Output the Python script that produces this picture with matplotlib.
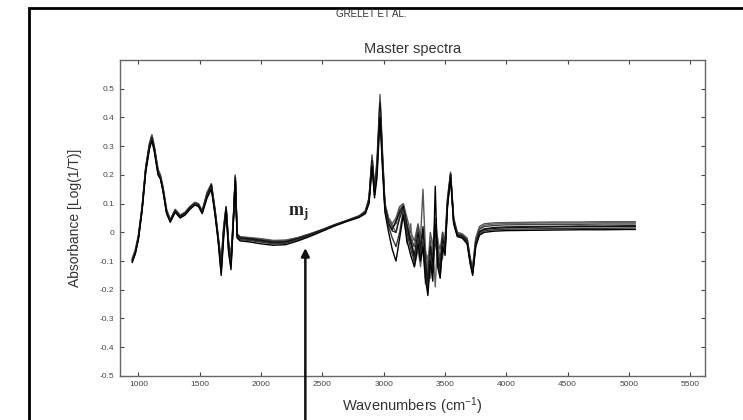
import matplotlib
matplotlib.use("Agg")
import matplotlib.pyplot as plt
from matplotlib.patches import Rectangle

plt.rcParams['font.family'] = ['Liberation Sans', 'DejaVu Sans']
plt.rcParams['mathtext.fontset'] = 'custom'
plt.rcParams['mathtext.rm'] = 'Liberation Sans'
plt.rcParams['mathtext.it'] = 'Liberation Sans:italic'
plt.rcParams['mathtext.bf'] = 'Liberation Serif:bold'

# wavenumbers (cm-1) shared by all spectra
wn = [950, 975, 1000, 1030, 1060, 1090, 1110, 1130, 1160, 1180,
      1200, 1230, 1260, 1300, 1340, 1380, 1420, 1460, 1490, 1520,
      1560, 1595, 1625, 1650, 1675, 1695, 1715, 1735, 1755, 1775,
      1790, 1805, 1830, 1900, 2000, 2100, 2200, 2300, 2400, 2500,
      2600, 2700, 2800, 2850, 2880, 2905, 2925, 2945, 2970, 2990,
      3010, 3040, 3070, 3100, 3130, 3160, 3190, 3220, 3250, 3280,
      3300, 3320, 3340, 3360, 3380, 3400, 3420, 3440, 3460, 3480,
      3500, 3520, 3545, 3570, 3600, 3640, 3680, 3705, 3725, 3750,
      3780, 3820, 3900, 4000, 4200, 4400, 4600, 4800, 5000, 5050]

spec_1 = [-0.10, -0.07, -0.02, 0.08, 0.22, 0.30, 0.33, 0.29, 0.21, 0.19,
          0.15, 0.07, 0.04, 0.075, 0.055, 0.065, 0.085, 0.10, 0.095, 0.07,
          0.13, 0.165, 0.07, -0.02, -0.13, 0.0, 0.085, -0.05, -0.11, 0.05,
          0.19, -0.01, -0.02, -0.022, -0.028, -0.034, -0.033, -0.022, -0.008, 0.008,
          0.025, 0.04, 0.055, 0.07, 0.11, 0.25, 0.14, 0.22, 0.45, 0.25,
          0.09, 0.03, 0.01, 0.04, 0.07, 0.09, 0.02, -0.03, -0.08, 0.0,
          -0.06, 0.02, -0.12, -0.19, -0.05, -0.12, 0.03, -0.08, -0.13, -0.02,
          -0.06, 0.10, 0.20, 0.04, -0.01, -0.015, -0.03, -0.10, -0.14, -0.04,
          0.0, 0.01, 0.014, 0.016, 0.018, 0.019, 0.02, 0.02, 0.021, 0.021]

spec_2 = [-0.09, -0.06, -0.01, 0.09, 0.23, 0.31, 0.34, 0.30, 0.22, 0.20,
          0.16, 0.08, 0.045, 0.08, 0.06, 0.07, 0.09, 0.105, 0.10, 0.075,
          0.14, 0.17, 0.08, -0.01, -0.10, 0.02, 0.09, -0.03, -0.08, 0.06,
          0.20, -0.005, -0.015, -0.018, -0.022, -0.028, -0.027, -0.018, -0.005, 0.01,
          0.027, 0.042, 0.058, 0.075, 0.12, 0.27, 0.16, 0.25, 0.48, 0.28,
          0.10, 0.05, 0.03, 0.05, 0.09, 0.10, 0.05, 0.00, -0.03, 0.03,
          -0.02, 0.15, -0.06, -0.12, 0.0, -0.05, 0.05, -0.03, -0.06, 0.0,
          -0.03, 0.12, 0.21, 0.05, 0.0, -0.005, -0.02, -0.09, -0.12, -0.02,
          0.02, 0.03, 0.033, 0.034, 0.035, 0.036, 0.036, 0.037, 0.037, 0.037]

spec_3 = [-0.105, -0.075, -0.025, 0.075, 0.21, 0.29, 0.32, 0.28, 0.20, 0.185,
          0.145, 0.065, 0.035, 0.07, 0.05, 0.06, 0.08, 0.095, 0.09, 0.065,
          0.12, 0.15, 0.06, -0.03, -0.15, -0.02, 0.08, -0.07, -0.13, 0.04,
          0.18, -0.02, -0.03, -0.033, -0.04, -0.045, -0.043, -0.03, -0.014, 0.004,
          0.022, 0.038, 0.052, 0.065, 0.10, 0.23, 0.12, 0.19, 0.40, 0.22,
          0.07, 0.0, -0.06, -0.10, -0.02, 0.06, -0.03, -0.08, -0.12, -0.04,
          -0.10, -0.05, -0.16, -0.22, -0.10, -0.17, 0.16, -0.12, -0.16, -0.05,
          -0.08, 0.09, 0.19, 0.03, -0.015, -0.02, -0.04, -0.11, -0.15, -0.05,
          -0.01, 0.0, 0.004, 0.006, 0.007, 0.008, 0.009, 0.009, 0.01, 0.01]

spec_4 = [-0.095, -0.065, -0.015, 0.085, 0.225, 0.305, 0.335, 0.295, 0.215, 0.195,
          0.155, 0.075, 0.042, 0.078, 0.058, 0.068, 0.088, 0.10, 0.098, 0.072,
          0.135, 0.16, 0.075, -0.015, -0.12, 0.01, 0.088, -0.04, -0.10, 0.055,
          0.195, -0.008, -0.018, -0.02, -0.025, -0.031, -0.03, -0.02, -0.006, 0.009,
          0.026, 0.041, 0.056, 0.072, 0.115, 0.26, 0.15, 0.23, 0.46, 0.26,
          0.095, 0.04, 0.02, 0.03, 0.08, 0.095, 0.03, -0.02, -0.05, 0.02,
          -0.04, 0.0, -0.09, -0.15, -0.03, -0.09, 0.0, -0.05, -0.10, 0.0,
          -0.04, 0.11, 0.205, 0.045, -0.005, -0.01, -0.025, -0.095, -0.13, -0.03,
          0.01, 0.02, 0.024, 0.026, 0.027, 0.028, 0.028, 0.029, 0.029, 0.029]

spec_5 = [-0.10, -0.072, -0.022, 0.078, 0.215, 0.295, 0.325, 0.285, 0.205, 0.188,
          0.148, 0.068, 0.038, 0.072, 0.052, 0.062, 0.082, 0.098, 0.092, 0.068,
          0.125, 0.155, 0.065, -0.025, -0.14, -0.01, 0.082, -0.06, -0.12, 0.045,
          0.185, -0.015, -0.026, -0.028, -0.034, -0.04, -0.038, -0.026, -0.011, 0.006,
          0.024, 0.039, 0.054, 0.068, 0.105, 0.24, 0.13, 0.21, 0.42, 0.24,
          0.08, 0.02, -0.02, -0.05, 0.0, 0.08, 0.0, -0.06, -0.10, -0.02,
          -0.08, -0.03, -0.14, -0.20, -0.08, -0.14, -0.02, -0.10, -0.15, -0.04,
          -0.07, 0.095, 0.195, 0.035, -0.012, -0.018, -0.035, -0.105, -0.145, -0.045,
          -0.005, 0.005, 0.009, 0.011, 0.012, 0.013, 0.014, 0.014, 0.015, 0.015]

spec_6 = [-0.098, -0.068, -0.018, 0.082, 0.22, 0.30, 0.33, 0.29, 0.21, 0.19,
          0.15, 0.072, 0.04, 0.075, 0.055, 0.066, 0.086, 0.1, 0.094, 0.07,
          0.13, 0.165, 0.07, -0.02, -0.125, 0.005, 0.085, -0.045, -0.105, 0.05,
          0.19, -0.012, -0.022, -0.025, -0.031, -0.037, -0.035, -0.024, -0.009, 0.007,
          0.025, 0.04, 0.055, 0.07, 0.11, 0.25, 0.14, 0.22, 0.44, 0.25,
          0.085, 0.03, 0.005, 0.0, 0.05, 0.085, 0.01, -0.04, -0.09, -0.01,
          -0.07, 0.01, -0.10, -0.17, -0.06, -0.13, 0.01, -0.09, -0.14, -0.03,
          -0.05, 0.10, 0.20, 0.04, -0.008, -0.012, -0.03, -0.10, -0.14, -0.04,
          0.003, 0.012, 0.017, 0.019, 0.02, 0.021, 0.022, 0.022, 0.023, 0.023]

spec_7 = [-0.093, -0.063, -0.012, 0.088, 0.228, 0.308, 0.338, 0.298, 0.218, 0.198,
          0.158, 0.078, 0.043, 0.08, 0.06, 0.069, 0.089, 0.103, 0.099, 0.073,
          0.138, 0.168, 0.078, -0.012, -0.11, 0.015, 0.09, -0.035, -0.09, 0.058,
          0.198, -0.006, -0.016, -0.019, -0.024, -0.03, -0.028, -0.019, -0.005, 0.01,
          0.026, 0.041, 0.057, 0.073, 0.118, 0.265, 0.155, 0.24, 0.47, 0.27,
          0.098, 0.045, 0.025, 0.0, 0.06, 0.10, -0.04, 0.03, -0.12, -0.06,
          -0.12, -0.04, -0.18, -0.08, -0.16, -0.04, -0.19, -0.02, -0.11, -0.09,
          -0.02, 0.115, 0.205, 0.05, -0.002, -0.008, -0.022, -0.09, -0.125, -0.025,
          0.015, 0.025, 0.029, 0.031, 0.032, 0.033, 0.033, 0.034, 0.034, 0.034]

spectra = [spec_2, spec_7, spec_4, spec_6, spec_1, spec_5, spec_3]
line_colors = ['#555555', '#666666', '#444444', '#222222', '#111111', '#333333', '#000000']

xticks = [1000, 1500, 2000, 2500, 3000, 3500, 4000, 4500, 5000, 5500]
yticks = [-0.5, -0.4, -0.3, -0.2, -0.1, 0, 0.1, 0.2, 0.3, 0.4, 0.5]
ytick_labels = ['-0.5', '-0.4', '-0.3', '-0.2', '-0.1', '0', '0.1', '0.2', '0.3', '0.4', '0.5']

fig = plt.figure(figsize=(7.43, 4.2), dpi=100)
ax = fig.add_axes([0.1615, 0.105, 0.7875, 0.752])

for s, c in zip(spectra, line_colors):
    ax.plot(wn, s, color=c, lw=1.0)

ax.set_xlim(850, 5620)
ax.set_ylim(-0.5, 0.6)
ax.set_xticks(xticks)
ax.set_yticks(yticks)
ax.set_yticklabels(ytick_labels)
ax.tick_params(direction='in', length=3, width=0.8, labelsize=6, colors='#444444',
               top=True, right=True, pad=4)
for sp in ax.spines.values():
    sp.set_color('#666666')
    sp.set_linewidth(1.0)

ax.set_xlabel('Wavenumbers (cm$^{-1}$)', fontsize=10.5, color='#333333', labelpad=5)
ax.set_ylabel('Absorbance [Log(1/T)]', fontsize=10, color='#333333', labelpad=13)
ax.set_title('Master spectra', fontsize=10.5, color='#333333', pad=5)

fig.text(0.5, 0.966, 'GRELET ET AL.', ha='center', va='center', fontsize=7, color='#333333')

# label and arrow pointing at the spectra
ax.text(2300, 0.065, r'$\mathbf{m_j}$', fontsize=13, color='#222222', ha='center', va='center')
ax.annotate('', xy=(2361, -0.045), xytext=(2361, -0.72),
            arrowprops=dict(arrowstyle='-|>', color='#111111', lw=1.8, mutation_scale=12),
            annotation_clip=False)

# black page frame
fig.patches.append(Rectangle((0.039, -0.05), 1.0, 1.031, transform=fig.transFigure,
                             fill=False, edgecolor='black', lw=2.0))

fig.savefig('out.png', dpi=100)
